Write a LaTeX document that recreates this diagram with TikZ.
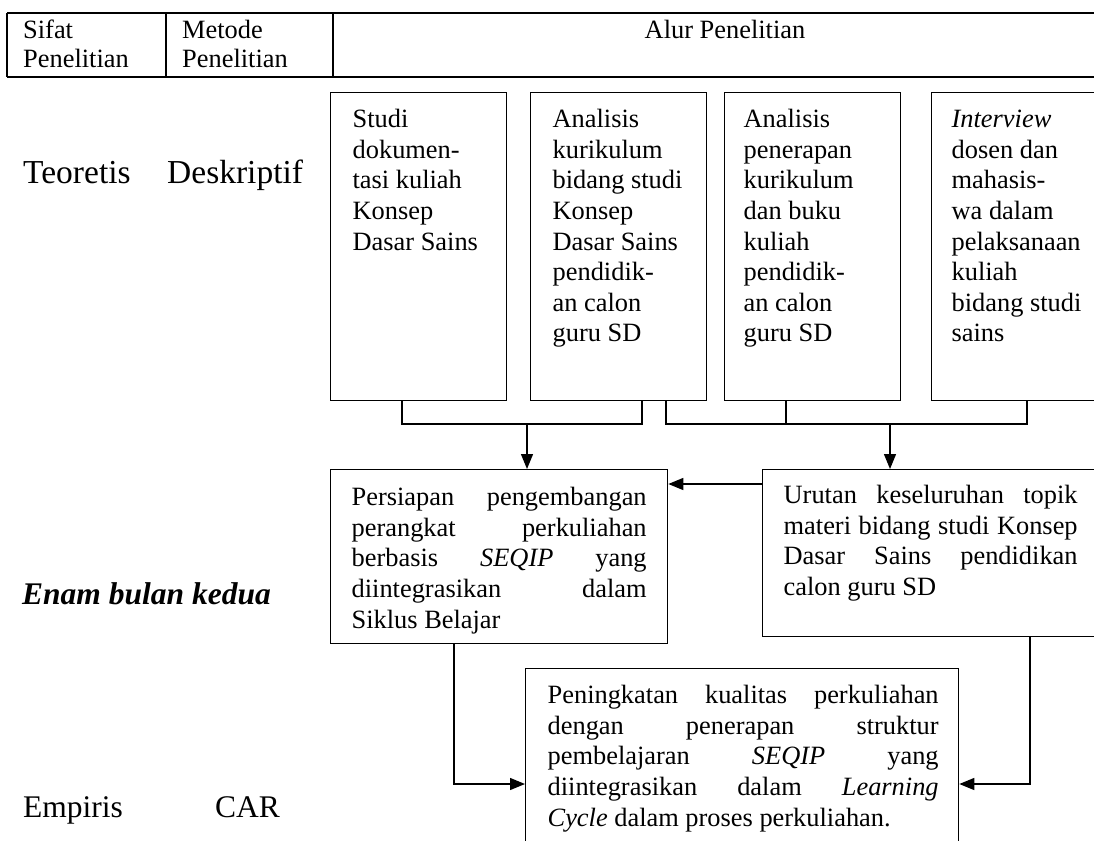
\documentclass[tikz,border=0pt]{standalone}
\usepackage{fontspec}
\setmainfont{Liberation Serif}
\usetikzlibrary{arrows.meta,calc}
\newcommand\bodyfont{\fontsize{26.4}{30.6}\selectfont}
\newcommand\hdrfont{\fontsize{26.4}{29}\selectfont}
% #1 box width, #2 box height, #3 left pad, #4 text width, #5 first-baseline offset, #6 text
\newcommand\cellbox[6]{\parbox[c][#2][t]{#1}{\hspace*{#3}\parbox[t]{#4}{\bodyfont\rule{0pt}{#5}#6}}}
\newcommand\jl[2]{\makebox[#1][s]{#2}}
\begin{document}
\begin{tikzpicture}[x=1pt,y=-1pt,
  box/.style={draw, line width=1.3pt, inner sep=0pt, anchor=north west},
  hline/.style={line width=1.7pt},
  conn/.style={line width=1.3pt},
  arr/.style={conn, -{Triangle[length=15pt,width=12pt]}},
  txt/.style={inner sep=0pt, anchor=base west},
  lbl/.style={inner sep=0pt, anchor=base west, font=\fontsize{31.5}{36}\selectfont},
  biglbl/.style={lbl, font=\fontsize{33.5}{38}\selectfont}]
\useasboundingbox (0,0) rectangle (1094,840);
\clip (0,0) rectangle (1094,840);
% header table
\draw[hline] (7,13) -- (1094,13);
\draw[hline] (7,77) -- (1094,77);
\draw[hline] (7,13) -- (7,77);
\draw[hline] (166,13) -- (166,77);
\draw[hline] (333,13) -- (333,77);
\node[txt] (h1) at (23,39) {\parbox[t]{140pt}{\hdrfont Sifat\\Penelitian}};
\node[txt] (h2) at (182,39) {\parbox[t]{145pt}{\hdrfont Metode\\Penelitian}};
\node[inner sep=0pt, anchor=base] (h3) at (725,39) {\hdrfont Alur Penelitian};
% side labels
\node[biglbl] (l1) at (23,183) {Teoretis};
\node[biglbl] (l2) at (167,183) {Deskriptif};
\node[lbl] (l3) at (22,604) {\textbf{\textit{Enam bulan kedua}}};
\node[lbl] (l4) at (23,817) {Empiris};
\node[lbl] (l5) at (215,817) {CAR};
% top boxes
\node[box] (b1) at (330,92) {\cellbox{176pt}{308pt}{22pt}{154pt}{35pt}{Studi\\ dokumen-\\ tasi kuliah\\ Konsep\\ Dasar Sains}};
\node[box] (b2) at (530,92) {\cellbox{176pt}{308pt}{22pt}{154pt}{35pt}{Analisis\\ kurikulum\\ bidang studi\\ Konsep\\ Dasar Sains\\ pendidik-\\ an calon\\ guru SD}};
\node[box] (b3) at (724,92) {\cellbox{176pt}{308pt}{19pt}{157pt}{35pt}{Analisis\\ penerapan\\ kurikulum\\ dan buku\\ kuliah\\ pendidik-\\ an calon\\ guru SD}};
\node[box] (b4) at (931,92) {\cellbox{185pt}{308pt}{20pt}{165pt}{35pt}{\textit{Interview}\\ dosen dan\\ mahasis-\\ wa dalam\\ pelaksanaan\\ kuliah\\ bidang studi\\ sains}};
% middle boxes
\node[box] (p) at (330,469) {\cellbox{337pt}{174pt}{21pt}{316pt}{36pt}{\jl{295pt}{Persiapan pengembangan}\\ \jl{295pt}{perangkat perkuliahan}\\ \jl{295pt}{berbasis \textit{SEQIP} yang}\\ \jl{295pt}{diintegrasikan dalam}\\ Siklus Belajar}};
\node[box] (u) at (762,469) {\cellbox{345pt}{167pt}{21pt}{324pt}{34pt}{\jl{294pt}{Urutan keseluruhan topik}\\ \jl{294pt}{materi bidang studi Konsep}\\ \jl{294pt}{Dasar Sains pendidikan}\\ calon guru SD}};
% bottom box
\node[box] (q) at (525,668) {\cellbox{433pt}{200pt}{22pt}{411pt}{35pt}{\jl{391pt}{Peningkatan kualitas perkuliahan}\\ \jl{391pt}{dengan penerapan struktur}\\ \jl{391pt}{pembelajaran \textit{SEQIP} yang}\\ \jl{391pt}{diintegrasikan dalam \textit{Learning}}\\ \textit{Cycle} dalam proses perkuliahan.}};
% connector coordinates
\coordinate (x1) at (402,424);
\coordinate (x2) at (642,424);
\coordinate (j1) at (527,424);
\coordinate (x3) at (666,424);
\coordinate (x4) at (786,424);
\coordinate (x5) at (1027,424);
\coordinate (j2) at (890,424);
\coordinate (ya) at (720,484);
\coordinate (yl) at (454,784);
\coordinate (yr) at (1030,784);
% connectors
\draw[conn] (b1.south -| x1) -- (x1) -- (x2) -- (b2.south -| x2);
\draw[arr] (j1) -- (p.north -| j1);
\draw[conn] (b2.south -| x3) -- (x3) -- (x5) -- (b4.south -| x5);
\draw[conn] (b3.south -| x4) -- (x4);
\draw[arr] (j2) -- (u.north -| j2);
\draw[arr] (u.west |- ya) -- (p.east |- ya);
\draw[arr] (p.south -| yl) -- (yl) -- (q.west |- yl);
\draw[arr] (u.south -| yr) -- (yr) -- (q.east |- yr);
\end{tikzpicture}
\end{document}
